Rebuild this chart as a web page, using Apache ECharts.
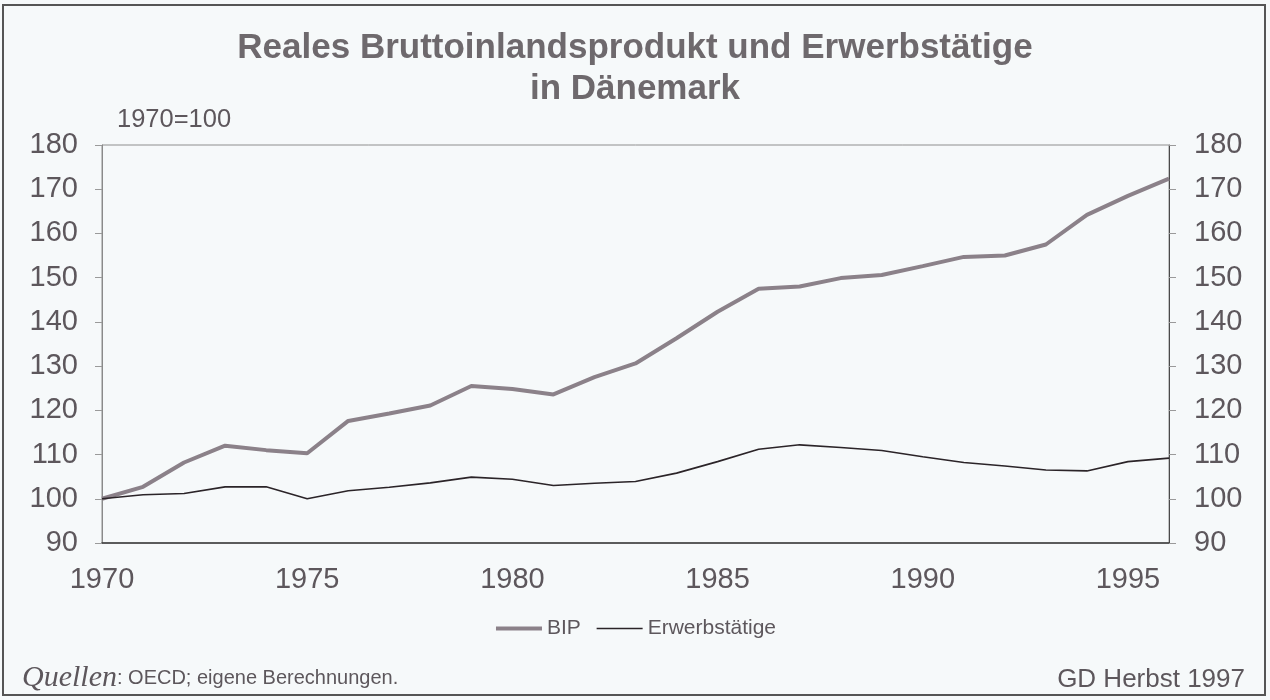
<!DOCTYPE html>
<html>
<head>
<meta charset="utf-8">
<script src="https://cdn.jsdelivr.net/npm/echarts@6/dist/echarts.min.js"></script>
<style>
html,body{margin:0;padding:0;background:#f6f9fa;}
#c{width:1270px;height:700px;}
</style>
</head>
<body>
<div id="c"></div>
<script>
const years = [1970,1971,1972,1973,1974,1975,1976,1977,1978,1979,1980,1981,1982,1983,1984,1985,1986,1987,1988,1989,1990,1991,1992,1993,1994,1995,1996];
const bip = [100,102.7,108.2,112.0,111.0,110.3,117.6,119.3,121.1,125.5,124.8,123.6,127.5,130.6,136.3,142.3,147.5,148.0,149.9,150.6,152.6,154.7,155.0,157.5,164.2,168.5,172.4];
const erwerb = [100,100.9,101.2,102.7,102.7,100.0,101.8,102.6,103.6,104.9,104.4,103.0,103.5,103.9,105.8,108.4,111.2,112.2,111.6,110.9,109.5,108.2,107.4,106.5,106.3,108.4,109.2];
const seriesNames = ['BIP','Erwerbstätige'];
const titleLines = ['Reales Bruttoinlandsprodukt und Erwerbstätige','in Dänemark'];
const unitLabel = '1970=100';
const sourceLabel = 'Quellen';
const sourceText = ': OECD; eigene Berechnungen.';
const creditText = 'GD Herbst 1997';

const FONT = '"Liberation Sans", Arial, sans-serif';
const TXT = '#5d575c';

const chart = echarts.init(document.getElementById('c'), null, {renderer:'canvas'});
chart.setOption({
  backgroundColor:'#f6f9fa',
  animation:false,
  title:[
    {text: titleLines.join('\n'), left:'center', top:23,
     textStyle:{fontFamily:FONT, fontWeight:'bold', fontSize:35, color:'#6e696d', lineHeight:41}},
    {text: unitLabel, left:112, top:102, textStyle:{fontFamily:FONT, fontWeight:'normal', fontSize:25.5, color:TXT}},
    {text: '{i|'+sourceLabel+'}{n|'+sourceText+'}', left:17, top:658,
     textStyle:{fontWeight:'normal', rich:{
       i:{fontFamily:'"Liberation Serif", "DejaVu Serif", serif', fontStyle:'italic', fontWeight:'normal', fontSize:30, color:TXT},
       n:{fontFamily:FONT, fontWeight:'normal', fontSize:20, color:TXT}}}},
    {text: creditText, right:20, top:662, textStyle:{fontFamily:FONT, fontWeight:'normal', fontSize:26, color:TXT}}
  ],
  legend:{
    data: [
      {name:seriesNames[0], lineStyle:{width:4, color:'#8b8189'}},
      {name:seriesNames[1], lineStyle:{width:1.6, color:'#2b2428'}}
    ],
    bottom:56, left:'center', itemWidth:46, itemHeight:10, itemGap:15,
    itemStyle:{opacity:0},
    textStyle:{fontFamily:FONT, fontSize:21, color:TXT}
  },
  grid:{left:102, right:101, top:145, bottom:157, show:true, borderColor:'#8e8e8e', borderWidth:1},
  xAxis:{
    type:'value', min:1970, max:1996, interval:5,
    axisLine:{show:true, onZero:false, lineStyle:{color:'#3a3a3a', width:1.5}},
    axisTick:{show:false},
    splitLine:{show:false},
    axisLabel:{fontFamily:FONT, fontSize:29, color:TXT, margin:22,
      formatter:v => (v % 5 === 0 ? String(v) : '')}
  },
  yAxis:[
    {type:'value', min:90, max:180, interval:10, position:'left',
     axisLine:{show:true, lineStyle:{color:'#8a8a8a'}},
     axisTick:{show:true, length:7, lineStyle:{color:'#9a9a9a'}},
     splitLine:{show:false},
     axisLabel:{fontFamily:FONT, fontSize:29, color:TXT, margin:24}},
    {type:'value', min:90, max:180, interval:10, position:'right',
     axisLine:{show:true, lineStyle:{color:'#4a4a4a'}},
     axisTick:{show:true, length:7, lineStyle:{color:'#9a9a9a'}},
     splitLine:{show:false},
     axisLabel:{fontFamily:FONT, fontSize:29, color:TXT, margin:25}}
  ],
  series:[
    {name:seriesNames[0], type:'line', symbol:'none', data: years.map((y,i)=>[y,bip[i]]),
     lineStyle:{color:'#8b8189', width:4}, itemStyle:{color:'#8b8189'}},
    {name:seriesNames[1], type:'line', symbol:'none', data: years.map((y,i)=>[y,erwerb[i]]),
     lineStyle:{color:'#2b2428', width:1.6}, itemStyle:{color:'#2b2428'}}
  ],
  graphic:[
    {type:'rect', shape:{x:3, y:5, width:1262, height:690}, silent:true,
     style:{fill:null, stroke:'#555', lineWidth:2}}
  ]
});
</script>
</body>
</html>
